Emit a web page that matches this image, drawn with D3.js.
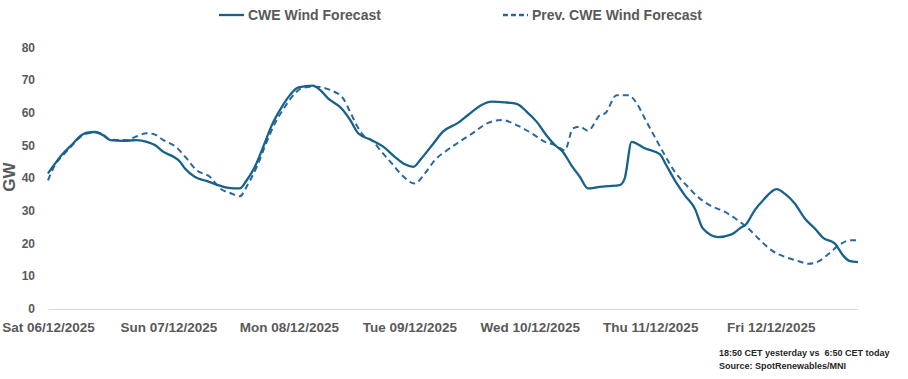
<!DOCTYPE html>
<html>
<head>
<meta charset="utf-8">
<script src="https://cdn.jsdelivr.net/npm/d3@7"></script>
<style>
  body { margin: 0; background: #fff; }
  svg text { font-family: "Liberation Sans", Arial, sans-serif; font-weight: bold; }
</style>
</head>
<body>
<div id="chart"></div>
<script>

  // day labels, one per midnight (hours since Sat 06/12 00:00)
  let dayLabels = ["Sat 06/12/2025", "Sun 07/12/2025", "Mon 08/12/2025", "Tue 09/12/2025",
                   "Wed 10/12/2025", "Thu 11/12/2025", "Fri 12/12/2025"];
  let dayHours = [0, 24, 48, 72, 96, 120, 144];

  let yTicks = [0, 10, 20, 30, 40, 50, 60, 70, 80];

  let seriesNames = ["CWE Wind Forecast", "Prev. CWE Wind Forecast"];

  // CWE Wind Forecast (GW)
  let cweHours = [0, 1.4, 3.0, 4.7, 6.4, 7.7, 9.4, 11.0, 12.4, 15.0, 17.7, 19.7, 21.3, 23.0, 25.0,
                  26.3, 27.3, 29.3, 31.6, 33.9, 35.9, 38.2, 39.6, 41.2, 42.9, 44.6, 46.6, 48.2, 49.9,
                  52.8, 54.2, 55.8, 58.5, 60.2, 61.8, 64.5, 66.8, 69.1, 71.1, 72.8, 74.4, 76.8, 78.7,
                  81.7, 83.7, 86.4, 88.4, 91.0, 93.4, 95.4, 97.4, 99.3, 101.0, 102.6, 104.3, 106.0,
                  107.6, 110.0, 111.6, 113.9, 114.9, 116.3, 118.9, 121.9, 123.2, 124.9, 126.9, 128.9,
                  130.5, 133.5, 136.2, 137.8, 139.2, 140.8, 142.5, 145.2, 146.8, 148.8, 150.8, 152.8,
                  154.4, 156.8, 158.4, 159.8, 161.4];
  let cweValues = [41.4, 44.4, 47.5, 50.1, 52.8, 53.9, 54.1, 53.1, 51.6, 51.4, 51.6, 51.1, 50.1, 48.0, 46.5,
                   45.0, 42.9, 40.3, 39.1, 37.8, 37.0, 36.8, 39.3, 43.4, 49.6, 56.2, 61.8, 65.4, 67.8,
                   68.3, 67.0, 64.4, 61.3, 57.8, 53.7, 51.6, 49.6, 46.5, 44.2, 43.4, 46.0, 50.6, 54.2,
                   56.9, 59.3, 62.4, 63.4, 63.2, 62.7, 60.3, 57.2, 53.1, 50.1, 48.0, 43.9, 40.3,
                   36.8, 37.3, 37.5, 37.8, 39.8, 51.1, 49.1, 47.3, 43.9, 39.3, 34.7, 30.6,
                   24.5, 21.9, 22.7, 24.5, 26.0, 30.1, 33.2, 36.6, 35.2, 32.2, 27.6, 24.5,
                   21.7, 19.9, 16.3, 14.5, 14.2];

  // Prev. CWE Wind Forecast (GW)
  let prevHours = [0, 1.4, 3.0, 4.7, 6.4, 7.7, 9.4, 11.0, 12.4, 15.7, 17.7, 19.7, 21.0, 23.0, 25.6,
                   27.6, 29.6, 32.3, 34.3, 36.3, 38.2, 39.9, 41.6, 43.2, 45.2, 47.2, 48.9, 50.5, 53.2,
                   56.5, 58.8, 60.2, 61.5, 62.8, 64.5, 66.5, 68.5, 70.5, 73.1, 75.1, 77.1, 79.5, 81.7,
                   84.4, 87.7, 90.4, 93.0, 96.4, 99.0, 101.0, 103.0, 104.6, 106.0, 107.6, 110.0, 111.0,
                   113.3, 115.6, 117.3, 118.9, 120.9, 122.9, 124.9, 127.2, 129.5, 131.9, 134.9, 137.5,
                   139.2, 141.6, 144.2, 146.9, 149.6, 151.6, 153.6, 155.6, 157.6, 159.9, 161.4];
  let prevValues = [39.3, 44.0, 47.0, 49.8, 52.5, 53.6, 54.0, 53.3, 51.8, 51.6, 52.8, 53.7, 53.5, 51.6, 49.4,
                    46.0, 42.4, 40.3, 36.8, 35.4, 34.4, 38.3, 43.4, 49.6, 56.7, 61.8, 65.4, 67.5, 68.0,
                    66.8, 64.4, 60.3, 56.2, 53.1, 51.6, 48.0, 44.5, 40.9, 38.3, 41.4, 45.5, 48.5, 50.8,
                    53.5, 56.9, 57.8, 56.5, 53.7, 51.1, 50.1, 48.5, 55.2, 55.7, 54.5, 59.3, 59.8,
                    65.4, 65.4, 62.9, 58.3, 52.6, 47.0, 41.9, 37.8, 34.2, 31.6, 29.6, 27.0,
                    25.0, 21.4, 17.8, 15.8, 14.5, 13.7, 14.5, 16.8, 19.4, 20.9, 20.9];

  let footnotes = ["18:50 CET yesterday vs  6:50 CET today", "Source: SpotRenewables/MNI"];


  let width = 908;
  let height = 379;

  let lineColor = "#17618a";
  let prevColor = "#2b679e";
  let textColor = "#595959";

  let svg = d3.select("#chart")
              .append("svg")
              .attr("width", width)
              .attr("height", height);

  let x = d3.scaleLinear()
            .domain([0, 161.4])
            .range([48, 858]);

  let y = d3.scaleLinear()
            .domain([0, 80])
            .range([308.5, 47.5]);


  // x axis
  let xAxis = svg.append("g")
                 .attr("class", "x-axis")
                 .attr("transform", "translate(0," + 309 + ")")
                 .call(d3.axisBottom(x)
                         .tickValues(dayHours)
                         .tickFormat(function(d, i) { return dayLabels[i]; })
                         .tickSize(0)
                         .tickPadding(13));

  xAxis.select(".domain")
       .attr("stroke", "#d9d9d9")
       .attr("stroke-width", 1.2);

  xAxis.selectAll("text")
       .attr("fill", textColor)
       .style("font-size", "13.5px");


  // y axis
  let yAxis = svg.append("g")
                 .attr("class", "y-axis")
                 .attr("transform", "translate(48,0)")
                 .call(d3.axisLeft(y)
                         .tickValues(yTicks)
                         .tickSize(0)
                         .tickPadding(13));

  yAxis.select(".domain").remove();

  yAxis.selectAll("text")
       .attr("fill", textColor)
       .style("font-size", "12px");

  svg.append("text")
     .attr("transform", "translate(15,177) rotate(-90)")
     .attr("text-anchor", "middle")
     .attr("fill", textColor)
     .style("font-size", "17px")
     .text("GW");


  // lines
  let line = d3.line()
               .x(function(d) { return x(d[0]); })
               .y(function(d) { return y(d[1]); })
               .curve(d3.curveMonotoneX);

  let prevData = d3.zip(prevHours, prevValues);
  let cweData = d3.zip(cweHours, cweValues);

  svg.append("path")
     .datum(prevData)
     .attr("class", "prev-line")
     .attr("fill", "none")
     .attr("stroke", prevColor)
     .attr("stroke-width", 2)
     .attr("stroke-dasharray", "6,4")
     .attr("d", line);

  svg.append("path")
     .datum(cweData)
     .attr("class", "cwe-line")
     .attr("fill", "none")
     .attr("stroke", lineColor)
     .attr("stroke-width", 2.3)
     .attr("d", line);


  // legend
  let legendItems = [
    { name: seriesNames[0], color: lineColor, dash: null, x: 219 },
    { name: seriesNames[1], color: prevColor, dash: "5,3", x: 503 }
  ];

  let legend = svg.selectAll("g.legend")
                  .data(legendItems)
                  .enter()
                  .append("g")
                  .attr("class", "legend")
                  .attr("transform", function(d) { return "translate(" + d.x + ",15)"; });

  legend.append("line")
        .attr("x1", 0)
        .attr("x2", 25)
        .attr("y1", 0)
        .attr("y2", 0)
        .attr("stroke", function(d) { return d.color; })
        .attr("stroke-width", 2.3)
        .attr("stroke-dasharray", function(d) { return d.dash; });

  legend.append("text")
        .attr("x", 29)
        .attr("y", 5)
        .attr("fill", textColor)
        .style("font-size", "14px")
        .text(function(d) { return d.name; });


  // footnote
  svg.selectAll("text.footnote")
     .data(footnotes)
     .enter()
     .append("text")
     .attr("class", "footnote")
     .attr("x", 719)
     .attr("y", function(d, i) { return 356 + i * 13; })
     .attr("fill", "#262626")
     .style("font-size", "9px")
     .style("white-space", "pre")
     .text(function(d) { return d; });

</script>
</body>
</html>
